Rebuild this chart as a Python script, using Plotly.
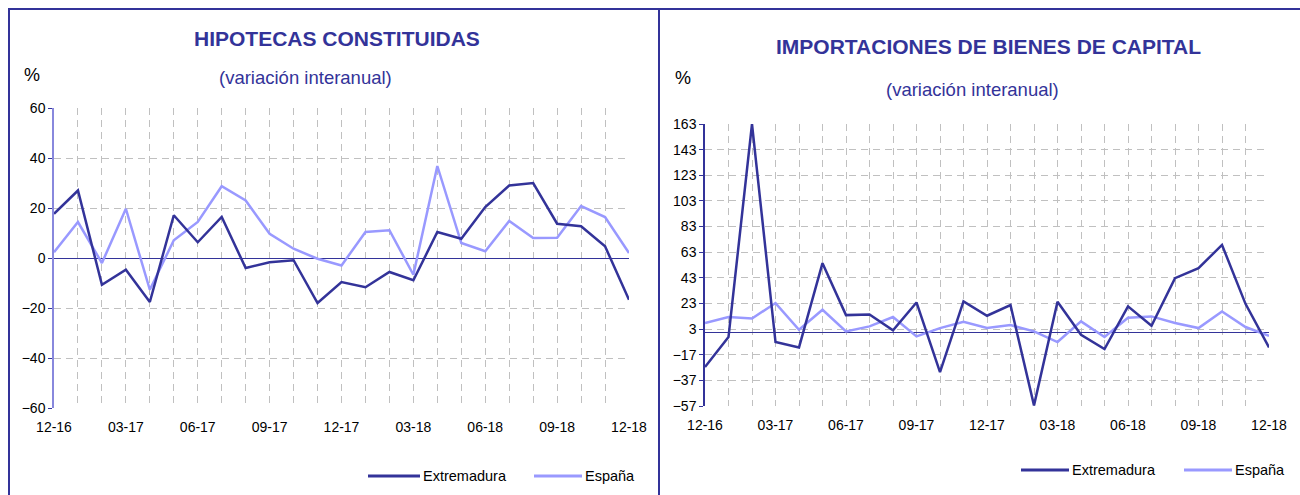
import plotly.graph_objects as go

W, H = 1300, 495

# months shown on both x axes (dec-2016 .. dec-2018)
months = [
    "12-16", "01-17", "02-17", "03-17", "04-17", "05-17", "06-17", "07-17", "08-17",
    "09-17", "10-17", "11-17", "12-17", "01-18", "02-18", "03-18", "04-18", "05-18",
    "06-18", "07-18", "08-18", "09-18", "10-18", "11-18", "12-18",
]

# Hipotecas constituidas (variación interanual, %)
hipo_extremadura = [17.7, 27.0, -10.7, -4.7, -17.6, 17.1, 6.3, 16.4, -4.0, -1.7, -0.9, -18.0,
                    -9.6, -11.7, -5.6, -8.9, 10.4, 7.7, 20.4, 29.0, 30.0, 13.7, 12.7, 4.7, -16.7]
hipo_espana = [2.3, 14.4, -2.0, 19.7, -12.7, 7.1, 14.4, 28.7, 23.0, 9.7, 3.7, -0.3,
               -3.0, 10.4, 11.1, -6.7, 36.8, 6.0, 2.7, 14.8, 8.0, 8.1, 20.8, 16.4, 2.0]

# Importaciones de bienes de capital (variación interanual, %)
imp_extremadura = [-26.6, -3.2, 163.0, -7.1, -11.3, 54.4, 13.9, 14.4, 2.0, 23.8, -30.5, 24.6,
                   13.4, 21.7, -56.5, 24.3, -1.4, -12.6, 20.7, 5.6, 42.7, 50.5, 68.7, 22.7, -11.3]
imp_espana = [7.7, 12.4, 11.3, 23.3, 2.5, 18.1, 1.2, 5.1, 12.4, -2.7, 3.8, 8.7,
              3.8, 6.1, 1.2, -7.1, 9.0, -3.2, 11.8, 12.9, 7.7, 3.8, 16.8, 4.6, -2.2]

hipo_yticks = [-60, -40, -20, 0, 20, 40, 60]
imp_yticks = [-57, -37, -17, 3, 23, 43, 63, 83, 103, 123, 143, 163]

NAVY = "#333399"
LIGHT = "#9999ff"
GRID = "#c0c0c0"
FONT = "Liberation Sans, Arial, sans-serif"


def px(x):
    return x / W


def py(y):
    return 1 - y / H


fig = go.Figure()

for xa, ya, ext, esp in [("x", "y", hipo_extremadura, hipo_espana),
                         ("x2", "y2", imp_extremadura, imp_espana)]:
    fig.add_trace(go.Scatter(x=months, y=esp, mode="lines", xaxis=xa, yaxis=ya,
                             line=dict(color=LIGHT, width=2.5), showlegend=False))
    fig.add_trace(go.Scatter(x=months, y=ext, mode="lines", xaxis=xa, yaxis=ya,
                             line=dict(color=NAVY, width=2.5), showlegend=False))

xlabels = [m if i % 3 == 0 else "" for i, m in enumerate(months)]
common_x = dict(
    type="category", range=[0, len(months) - 1], tickmode="array",
    tickvals=months, ticktext=xlabels, showgrid=True, gridcolor=GRID,
    griddash="7px,5px", gridwidth=1, zeroline=False, showline=False, ticks="",
    ticklabelstandoff=9, tickfont=dict(size=14, color="black"), automargin=False,
)
common_y = dict(
    tickmode="array", showgrid=True, gridcolor=GRID, griddash="7px,5px",
    gridwidth=1, zeroline=True, zerolinecolor=NAVY, zerolinewidth=1,
    showline=True, ticks="outside", ticklen=4, tickcolor=NAVY,
    tickfont=dict(size=14, color="black"), automargin=False,
)

fig.update_layout(
    width=W, height=H, autosize=False,
    margin=dict(l=0, r=0, t=0, b=0, autoexpand=False),
    paper_bgcolor="white", plot_bgcolor="white",
    font=dict(family=FONT, color="black"),
    showlegend=False,
    xaxis=dict(domain=[px(54), px(629)], anchor="y", **common_x),
    yaxis=dict(domain=[py(408), py(108)], anchor="x", range=[-60, 60],
               tickvals=hipo_yticks, linecolor="#8888dd", linewidth=1.5, **common_y),
    xaxis2=dict(domain=[px(705), px(1269)], anchor="y2", **common_x),
    yaxis2=dict(domain=[py(406), py(124)], anchor="x2", range=[-57, 163],
                tickvals=imp_yticks, linecolor=NAVY, linewidth=1.5, **common_y),
)

# frame around the two panels
frame = dict(type="line", xref="paper", yref="paper", line=dict(color=NAVY, width=2))
fig.add_shape(x0=px(8), x1=1, y0=py(9), y1=py(9), **frame)
fig.add_shape(x0=px(9), x1=px(9), y0=py(9), y1=0, **frame)
fig.add_shape(x0=px(659), x1=px(659), y0=py(9), y1=0, **frame)

# titles and units
texts = [
    (337, 38, "<b>HIPOTECAS CONSTITUIDAS</b>", 21, NAVY),
    (305, 77, "(variación interanual)", 18.5, NAVY),
    (32, 75, "%", 18, "black"),
    (988, 47, "<b>IMPORTACIONES DE BIENES DE CAPITAL</b>", 21, NAVY),
    (972, 89, "(variación interanual)", 18.5, NAVY),
    (683, 78, "%", 18, "black"),
]
for x, y, t, s, c in texts:
    fig.add_annotation(x=px(x), y=py(y), xref="paper", yref="paper", text=t,
                       showarrow=False, font=dict(size=s, color=c, family=FONT),
                       xanchor="center", yanchor="middle")

# legends
legends = [
    (476, [(368, 420, NAVY, "Extremadura"), (534, 582, LIGHT, "España")]),
    (470, [(1021, 1069, NAVY, "Extremadura"), (1184, 1232, LIGHT, "España")]),
]
for ly, items in legends:
    for x0, x1, c, name in items:
        fig.add_shape(type="line", xref="paper", yref="paper", x0=px(x0), x1=px(x1),
                      y0=py(ly), y1=py(ly), line=dict(color=c, width=3))
        fig.add_annotation(x=px(x1 + 1), y=py(ly), xref="paper", yref="paper", text=name,
                           showarrow=False, xanchor="left", yanchor="middle",
                           font=dict(size=14.5, color="black", family=FONT))

fig.write_html(
    "out.html",
    config={"displayModeBar": False},
    post_script="document.body.style.margin='0';document.body.style.overflow='hidden';",
)
